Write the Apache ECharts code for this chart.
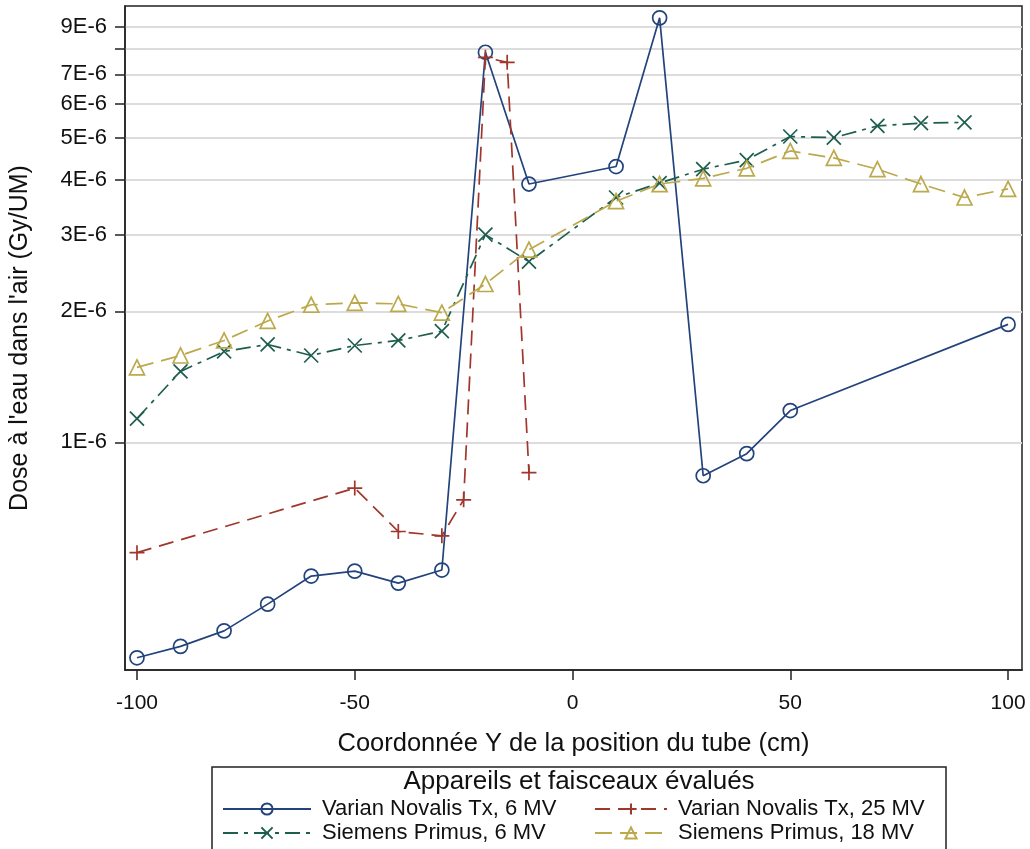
<!DOCTYPE html>
<html><head><meta charset="utf-8">
<script src="https://cdn.jsdelivr.net/npm/echarts@6/dist/echarts.min.js"></script>
<style>html,body{margin:0;padding:0;background:#fff}#c{width:1030px;height:849px}</style>
</head><body><div id="c"></div>
<script>
const xNovalis6 = [-100,-90,-80,-70,-60,-50,-40,-30,-20,-10,10,20,30,40,50,100];
const yNovalis6 = [3.2e-7,3.4e-7,3.69e-7,4.25e-7,4.93e-7,5.06e-7,4.75e-7,5.09e-7,7.87e-6,3.92e-6,4.30e-6,9.44e-6,8.38e-7,9.42e-7,1.183e-6,1.866e-6];
const xNovalis25 = [-100,-50,-40,-30,-25,-20,-15,-10];
const yNovalis25 = [5.58e-7,7.85e-7,6.24e-7,6.10e-7,7.38e-7,7.66e-6,7.46e-6,8.52e-7];
const xPrimus6 = [-100,-90,-80,-70,-60,-50,-40,-30,-20,-10,10,20,30,40,50,60,70,80,90];
const yPrimus6 = [1.134e-6,1.455e-6,1.617e-6,1.678e-6,1.583e-6,1.669e-6,1.714e-6,1.80e-6,3.0e-6,2.60e-6,3.65e-6,3.94e-6,4.24e-6,4.45e-6,5.04e-6,5.01e-6,5.33e-6,5.41e-6,5.43e-6];
const xPrimus18 = [-100,-90,-80,-70,-60,-50,-40,-30,-20,-10,10,20,30,40,50,60,70,80,90,100];
const yPrimus18 = [1.486e-6,1.583e-6,1.714e-6,1.90e-6,2.07e-6,2.09e-6,2.08e-6,1.985e-6,2.31e-6,2.77e-6,3.58e-6,3.92e-6,4.04e-6,4.26e-6,4.67e-6,4.50e-6,4.24e-6,3.92e-6,3.65e-6,3.82e-6];
const seriesNames = ['Varian Novalis Tx, 6 MV','Varian Novalis Tx, 25 MV','Siemens Primus, 6 MV','Siemens Primus, 18 MV'];
const xTicks = [-100,-50,0,50,100];
const yTicks = [1e-6,2e-6,3e-6,4e-6,5e-6,6e-6,7e-6,8e-6,9e-6];
const yTickLabels = {'1e-6':'1E-6','2e-6':'2E-6','3e-6':'3E-6','4e-6':'4E-6','5e-6':'5E-6','6e-6':'6E-6','7e-6':'7E-6','8e-6':'','9e-6':'9E-6'};

const FONT = '"Liberation Sans", Arial, sans-serif';
const colors = ['#22437c','#a0362c','#1d5e4e','#bca94c'];
const zip = (xs, ys) => xs.map((x, i) => [x, ys[i]]);
const plusPath = 'path://M0,-10L0,10M-10,0L10,0';
const xPath = 'path://M-10,-10L10,10M-10,10L10,-10';

function mk(i, xs, ys, symbol, size, dash) {
  return {
    name: seriesNames[i], type: 'line', data: zip(xs, ys),
    symbol: symbol, symbolSize: size, showSymbol: true,
    lineStyle: {color: colors[i], width: 1.7, type: dash},
    itemStyle: {color: 'rgba(255,255,255,0)', borderColor: colors[i], borderWidth: 1.7},
    emphasis: {disabled: true}, animation: false, z: 2 + i
  };
}

const legendText = {fontSize: 22, color: '#111', fontFamily: FONT, padding: [0, 0, 0, 6]};

const chart = echarts.init(document.getElementById('c'), null, {renderer: 'canvas'});
chart.setOption({
  animation: false,
  textStyle: {fontFamily: FONT},
  grid: {left: 124, top: 6, right: 8, bottom: 179, show: true, borderColor: '#222', borderWidth: 1.5, backgroundColor: 'transparent'},
  xAxis: {
    type: 'value', min: -102.75, max: 103.2,
    name: 'Coordonnée Y de la position du tube (cm)', nameLocation: 'middle', nameGap: 61,
    nameTextStyle: {fontSize: 25.5, color: '#111', fontFamily: FONT},
    axisLine: {show: true, onZero: false, lineStyle: {color: '#222', width: 1.5}},
    axisTick: {show: true, inside: false, length: 10, lineStyle: {color: '#222', width: 1.5}, customValues: xTicks},
    axisLabel: {fontSize: 21, color: '#111', margin: 23, fontFamily: FONT, customValues: xTicks},
    splitLine: {show: false}
  },
  yAxis: {
    type: 'log', logBase: 10, min: 3.0e-7, max: 1.005e-5,
    name: "Dose à l'eau dans l'air (Gy/UM)", nameLocation: 'middle', nameGap: 92,
    nameTextStyle: {fontSize: 25, color: '#111', fontFamily: FONT},
    axisLine: {show: true, onZero: false, lineStyle: {color: '#222', width: 1.5}},
    axisTick: {show: true, inside: false, length: 10, lineStyle: {color: '#222', width: 1.5}, customValues: yTicks},
    axisLabel: {fontSize: 22, color: '#111', margin: 18, fontFamily: FONT, customValues: yTicks,
      formatter: v => { const k = Number(v).toExponential(0); return yTickLabels[k] !== undefined ? yTickLabels[k] : ''; }},
    splitLine: {show: true, lineStyle: {color: '#dcdcdc', width: 2}}
  },
  legend: [
    {data: [seriesNames[0], seriesNames[2]], orient: 'vertical', left: 222, top: 798, padding: 0, itemGap: 2, itemWidth: 88, itemHeight: 14,
     textStyle: legendText, selectedMode: false},
    {data: [seriesNames[1], seriesNames[3]], orient: 'vertical', left: 594, top: 798, padding: 0, itemGap: 2, itemWidth: 72, itemHeight: 14,
     textStyle: legendText, selectedMode: false}
  ],
  graphic: [
    {type: 'rect', shape: {x: 212, y: 767, width: 734, height: 100}, style: {fill: 'none', stroke: '#222', lineWidth: 1.5}, silent: true},
    {type: 'text', x: 579, y: 782, style: {text: 'Appareils et faisceaux évalués', fontSize: 26, fontFamily: FONT, fill: '#111', textAlign: 'center', textVerticalAlign: 'middle'}, silent: true}
  ],
  series: [
    mk(0, xNovalis6, yNovalis6, 'circle', 14, 'solid'),
    mk(1, xNovalis25, yNovalis25, plusPath, 15, [15, 8]),
    mk(2, xPrimus6, yPrimus6, xPath, 14, [15, 6, 4, 6]),
    mk(3, xPrimus18, yPrimus18, 'triangle', 15, [17, 8])
  ]
});
</script></body></html>
